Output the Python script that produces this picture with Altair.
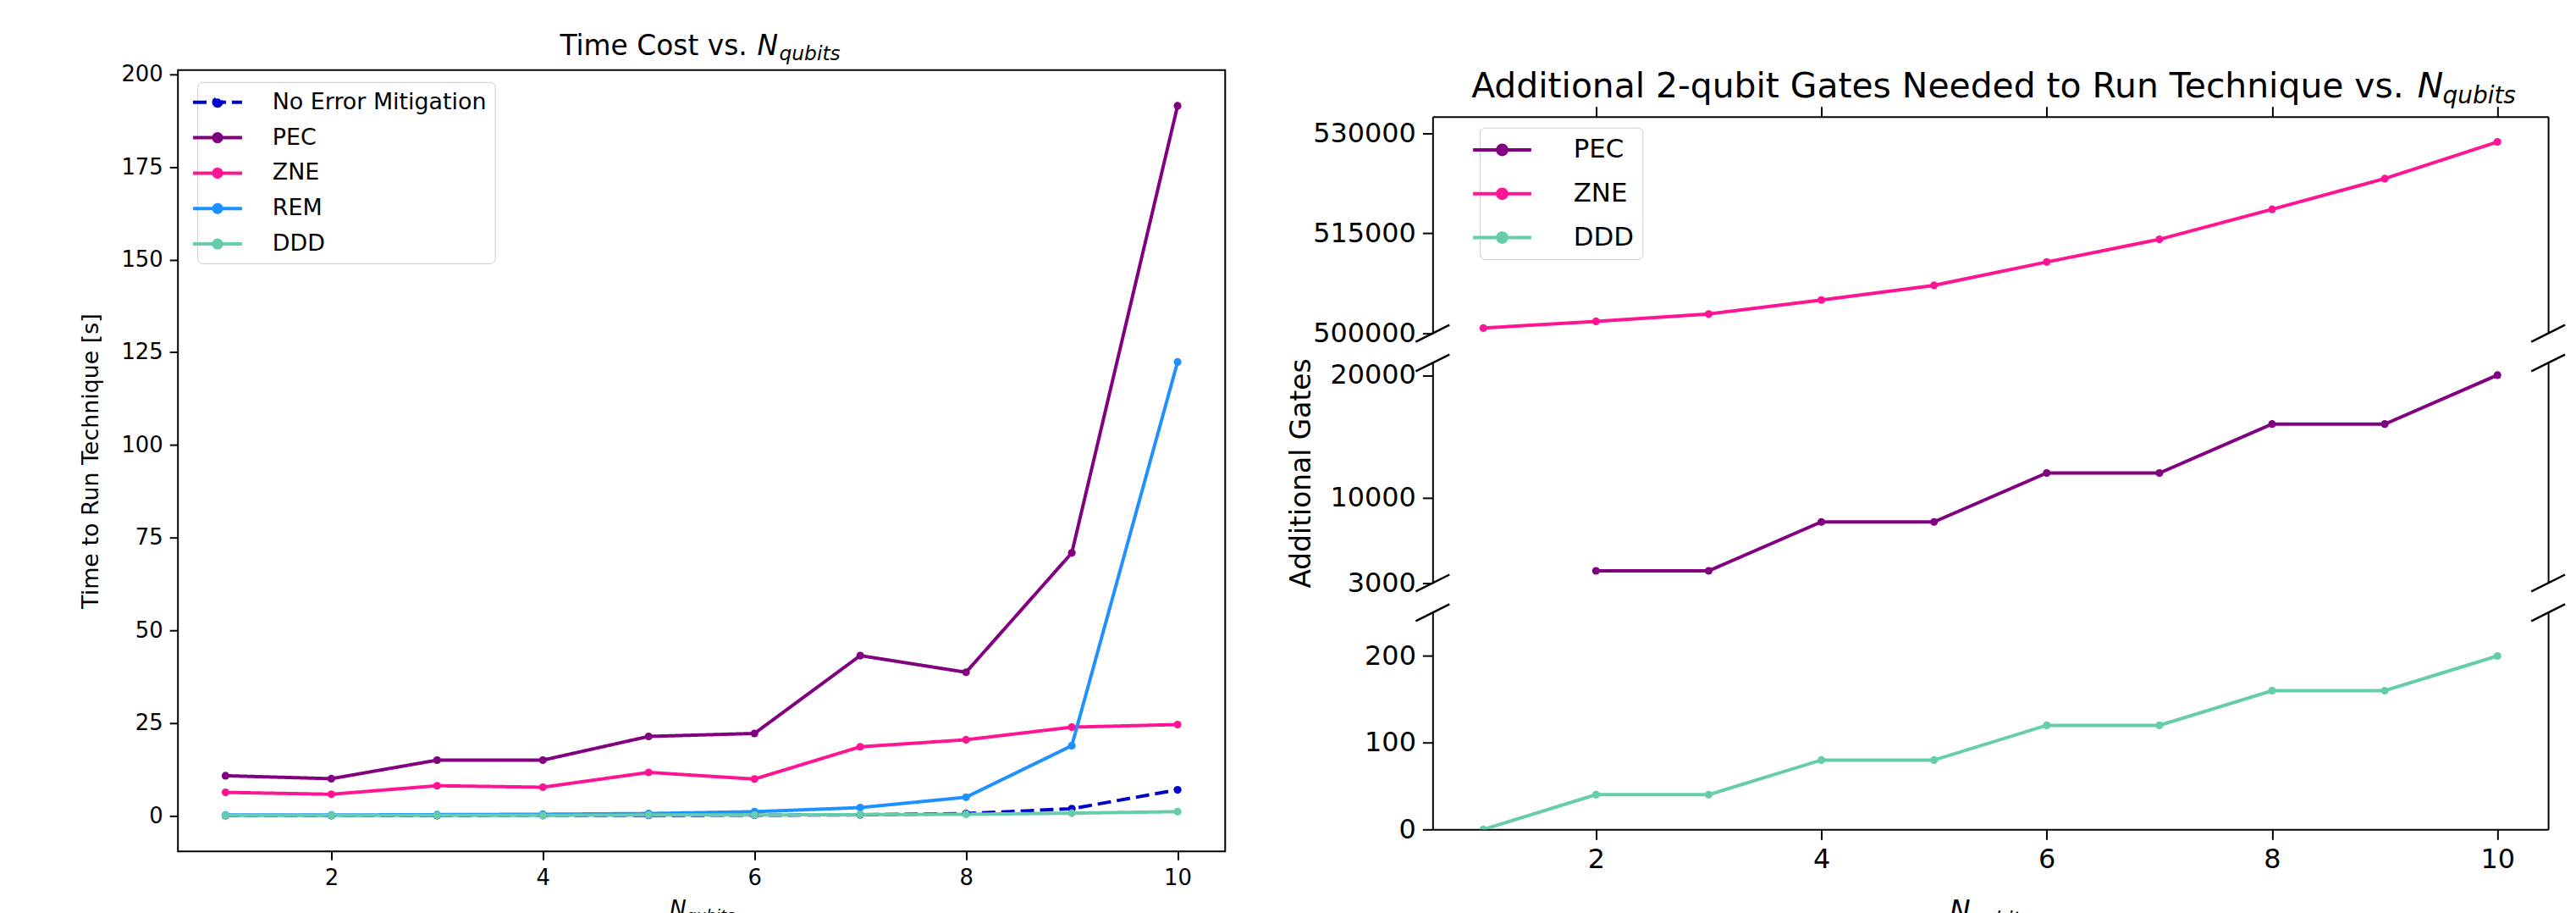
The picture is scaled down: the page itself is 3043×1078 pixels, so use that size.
import altair as alt
import pandas as pd

# ---------------- data ----------------
qubits = [1, 2, 3, 4, 5, 6, 7, 8, 9, 10]

time_series = ["No Error Mitigation", "PEC", "ZNE", "REM", "DDD"]
time_colors = ["#0000cd", "#800080", "#ff1493", "#1e90ff", "#66cdaa"]
time_noem = [0.05, 0.05, 0.06, 0.08, 0.1, 0.15, 0.25, 0.6, 1.9, 7.0]
time_pec = [10.8, 10.0, 15.0, 15.0, 21.4, 22.2, 43.2, 38.7, 70.9, 191.5]
time_zne = [6.3, 5.8, 8.1, 7.7, 11.7, 9.9, 18.6, 20.5, 23.9, 24.6]
time_rem = [0.2, 0.2, 0.3, 0.4, 0.6, 1.1, 2.2, 5.0, 18.9, 122.4]
time_ddd = [0.1, 0.1, 0.1, 0.1, 0.2, 0.2, 0.3, 0.4, 0.7, 1.1]

gate_series = ["PEC", "ZNE", "DDD"]
gate_colors = ["#800080", "#ff1493", "#66cdaa"]
gates_pec = [None, 4000, 4000, 8000, 8000, 12000, 12000, 16000, 16000, 20000]
gates_zne = [500800, 501800, 502900, 505000, 507200, 510700, 514100, 518600, 523200, 528700]
gates_ddd = [0, 40, 40, 80, 80, 120, 120, 160, 160, 200]

x_ticks = [2, 4, 6, 8, 10]
time_ticks = [0, 25, 50, 75, 100, 125, 150, 175, 200]
top_ticks = [500000, 515000, 530000]
mid_ticks = [3000, 10000, 20000]
bot_ticks = [0, 100, 200]

# ---------------- tables ----------------
rows = []
for s, vals in zip(time_series, [time_noem, time_pec, time_zne, time_rem, time_ddd]):
    for q, v in zip(qubits, vals):
        rows.append({"series": s, "qubits": q, "value": v})
df_time = pd.DataFrame(rows)

rows = []
for s, vals in zip(gate_series, [gates_pec, gates_zne, gates_ddd]):
    for q, v in zip(qubits, vals):
        if v is not None:
            rows.append({"series": s, "qubits": q, "gates": v})
df_gates = pd.DataFrame(rows)

ONE = pd.DataFrame({"k": [0]})
FONT = "DejaVu Sans"
LEG_PATH = "M-2.42,0L2.42,0M-0.38,0A0.38,0.38,0,1,0,0.38,0A0.38,0.38,0,1,0,-0.38,0Z"
BREAK = "M-1,0.5L1,-0.5"

L_W, L_H = 1242, 926
R_W = 1323
R_H = [257, 261, 257]


def txt(s, x, y, size, italic=False, baseline="alphabetic"):
    kw = dict(text=s, font=FONT, fontSize=size, align="left", baseline=baseline, color="black")
    if italic:
        kw["fontStyle"] = "italic"
    return alt.Chart(ONE).mark_text(**kw).encode(x=alt.value(x), y=alt.value(y))


def brk(x, y):
    return alt.Chart(ONE).mark_point(
        shape=BREAK, size=1600, filled=False, stroke="black", strokeWidth=2.5, opacity=1
    ).encode(x=alt.value(x), y=alt.value(y))


# ---------------- left chart ----------------
x_left = alt.X(
    "qubits:Q",
    scale=alt.Scale(domain=[0.55, 10.45], nice=False, zero=False),
    axis=alt.Axis(values=x_ticks, format="d", title=None, grid=False, domain=False,
                  tickSize=10, tickWidth=2, labelFontSize=26, labelPadding=8),
)
y_left = alt.Y(
    "value:Q",
    scale=alt.Scale(domain=[-9.6, 201.1], nice=False, zero=False),
    axis=alt.Axis(values=time_ticks, format="d", grid=False, domain=False,
                  tickSize=10, tickWidth=2, labelFontSize=26, labelPadding=8,
                  title="Time to Run Technique [s]", titleFontSize=27,
                  titleX=-103, titleY=L_H / 2, titleAlign="center",
                  titleBaseline="middle", titleAngle=270),
)
legend_left = alt.Legend(
    title=None, orient="none", legendX=23, legendY=14,
    symbolType=LEG_PATH, symbolSize=576, symbolStrokeWidth=4,
    labelFontSize=27, labelOffset=51, labelLimit=0, rowPadding=15, padding=10,
    fillColor="rgba(255,255,255,0.8)", strokeColor="#cccccc", cornerRadius=6,
)
color_left = alt.Color("series:N", scale=alt.Scale(domain=time_series, range=time_colors),
                       legend=legend_left)
dash_left = alt.StrokeDash(
    "series:N",
    scale=alt.Scale(domain=time_series, range=[[16, 7], [1, 0], [1, 0], [1, 0], [1, 0]]),
    legend=legend_left,
)

lines_left = alt.Chart(df_time).mark_line(strokeWidth=4).encode(
    x=x_left, y=y_left, color=color_left, strokeDash=dash_left)
points_left = alt.Chart(df_time).mark_point(filled=True, size=85, opacity=1).encode(
    x=x_left, y=y_left, color=color_left)

left = alt.layer(
    lines_left, points_left,
    txt("Time Cost vs.", 453, -18, 33),
    txt("N", 687, -18, 33, italic=True),
    txt("qubits", 713, -12, 23.5, italic=True),
    txt("N", 583, 1003, 26.5, italic=True),
    txt("qubits", 603, 1008, 18.5, italic=True),
).properties(width=L_W, height=L_H)

# ---------------- right chart (broken axis) ----------------
x_scale_r = alt.Scale(domain=[0.55, 10.45], nice=False, zero=False)
legend_right = alt.Legend(
    title=None, orient="none", legendX=56, legendY=13,
    symbolType=LEG_PATH, symbolSize=813, symbolStrokeWidth=4,
    labelFontSize=31, labelOffset=68, labelLimit=0, rowPadding=20, padding=10,
    fillColor="rgba(255,255,255,0.8)", strokeColor="#cccccc", cornerRadius=6,
)


def gate_panel(domain, ticks, height, kind, extra):
    ysc = alt.Scale(domain=domain, nice=False, zero=False)
    ax_args = dict(values=ticks, format="d", grid=False, domain=True, domainWidth=2,
                   tickSize=12, tickWidth=2, labelFontSize=32, labelPadding=8)
    if kind == "mid":
        yax_left = alt.Axis(title="Additional Gates", titleFontSize=33, titleX=-155,
                            titleY=height / 2, titleAlign="center", titleBaseline="middle",
                            titleAngle=270, **ax_args)
    else:
        yax_left = alt.Axis(title=None, **ax_args)
    yax_right = alt.Axis(orient="right", values=ticks, labels=False, ticks=False, domain=True,
                         domainWidth=2, grid=False, title=None)
    if kind == "top":
        xax = alt.Axis(orient="top", values=x_ticks, labels=False, ticks=True, tickSize=12,
                       tickWidth=2, domain=True, domainWidth=2, grid=False, title=None)
    elif kind == "mid":
        xax = None
    else:
        xax = alt.Axis(orient="bottom", values=x_ticks, format="d", labels=True, ticks=True,
                       tickSize=12, tickWidth=2, domain=True, domainWidth=2, grid=False,
                       title=None, labelFontSize=32, labelPadding=8)
    color = alt.Color("series:N", scale=alt.Scale(domain=gate_series, range=gate_colors),
                      legend=legend_right if kind == "top" else None)
    xenc = alt.X("qubits:Q", scale=x_scale_r, axis=xax)
    lines = alt.Chart(df_gates).mark_line(clip=True, strokeWidth=4).encode(
        x=xenc, y=alt.Y("gates:Q", scale=ysc, axis=yax_left), color=color)
    points = alt.Chart(df_gates).mark_point(clip=True, filled=True, size=85, opacity=1).encode(
        x=xenc, y=alt.Y("gates:Q", scale=ysc, axis=yax_right), color=color)
    return alt.layer(lines, points, *extra).resolve_axis(y="independent").properties(
        width=R_W, height=height, view=alt.ViewBackground(strokeOpacity=0))


# invisible cell that pushes the broken-axis panels down below the left plot's top edge
spacer = alt.Chart(ONE).mark_point(opacity=0).encode(
    x=alt.value(0), y=alt.value(0)
).properties(width=R_W, height=20, view=alt.ViewBackground(strokeOpacity=0))

top = gate_panel([500000, 532500], top_ticks, R_H[0], "top", [
    txt("Additional 2-qubit Gates Needed to Run Technique vs.", 46, -23, 41),
    txt("N", 1168, -23, 41, italic=True),
    txt("qubits", 1198, -16, 28, italic=True),
    brk(0, R_H[0]), brk(R_W, R_H[0]),
])
mid = gate_panel([3000, 21000], mid_ticks, R_H[1], "mid", [
    brk(0, 0), brk(R_W, 0), brk(0, R_H[1]), brk(R_W, R_H[1]),
])
bot = gate_panel([0, 250], bot_ticks, R_H[2], "bot", [
    brk(0, 0), brk(R_W, 0),
    txt("N", 613, 365, 33, italic=True),
    txt("qubits", 638, 371, 23, italic=True),
])

right = alt.vconcat(spacer, top, mid, bot, spacing=35, bounds="flush").resolve_scale(
    color="independent")

chart = alt.hconcat(left, right, spacing=74).resolve_scale(
    color="independent", strokeDash="independent"
).properties(
    padding={"left": 85, "top": 28, "right": 0, "bottom": 0}
).configure_view(
    stroke="black", strokeWidth=2
).configure_axis(
    labelFont=FONT, titleFont=FONT, labelColor="black", titleColor="black",
    tickColor="black", domainColor="black", titleFontWeight="normal"
).configure_legend(
    labelFont=FONT, labelColor="black"
)

chart.save("out.html", embed_options={"renderer": "svg", "actions": False})
